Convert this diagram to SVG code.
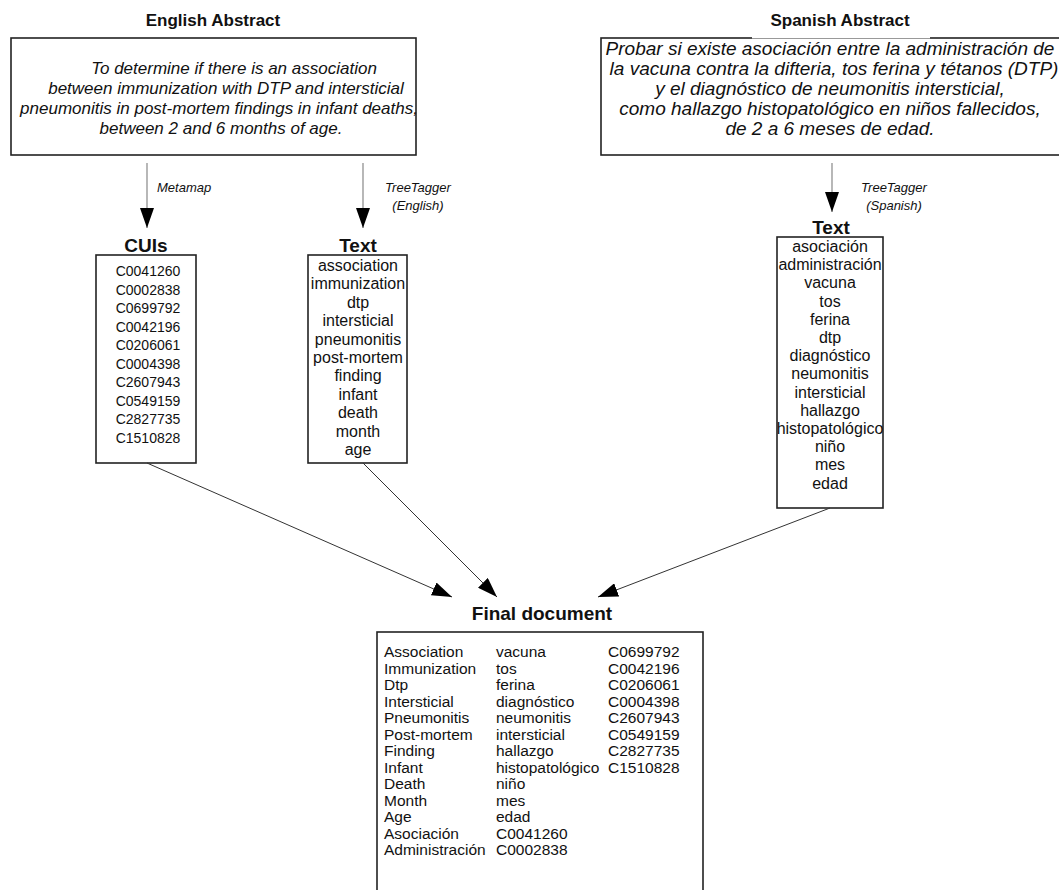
<svg xmlns="http://www.w3.org/2000/svg" width="1059" height="890" viewBox="0 0 1059 890">
<defs>
<style>
text{font-family:"Liberation Sans",Arial,sans-serif;fill:#111}
.title{font-weight:bold;font-size:17px;text-anchor:middle}
.sub{font-weight:bold;font-size:19px;text-anchor:middle}
.abs{font-style:italic;font-size:17px;text-anchor:middle}
.abs-es{font-style:italic;font-size:19px;text-anchor:middle}
.lbl{font-style:italic;font-size:13px;text-anchor:middle}
.item{font-size:14px;text-anchor:middle}
.word{font-size:16px;text-anchor:middle}
.doc{font-size:15.5px}
.box{fill:#fff;stroke:#222;stroke-width:1.6}
.down{stroke:#888;stroke-width:1.2;fill:none}
.conn{stroke:#333;stroke-width:1;fill:none}
</style>
<marker id="ah" viewBox="0 0 20 14" refX="20" refY="7" markerWidth="20" markerHeight="14" markerUnits="userSpaceOnUse" orient="auto">
<path d="M0,0 L20,7 L0,14 Z" fill="#000"/>
</marker>
</defs>
<rect width="1059" height="890" fill="#fff"/>

<g id="english-abstract">
<text class="title" x="213" y="26">English Abstract</text>
<rect class="box" x="11" y="38" width="405" height="117"/>
<text class="abs" x="234" y="74">To determine if there is an association</text>
<text class="abs" x="226" y="94">between immunization with DTP and intersticial</text>
<text class="abs" x="219" y="114">pneumonitis in post-mortem findings in infant deaths,</text>
<text class="abs" x="221" y="134">between 2 and 6 months of age.</text>
</g>

<g id="spanish-abstract">
<rect class="box" x="601" y="38" width="470" height="117"/>
<rect x="752" y="33" width="178" height="6" fill="#fff"/>
<line x1="752" y1="38.5" x2="930" y2="38.5" stroke="#999" stroke-width="1"/>
<text class="title" x="840" y="26">Spanish Abstract</text>
<text class="abs-es" x="830" y="55">Probar si existe asociación entre la administración de</text>
<text class="abs-es" x="834" y="75">la vacuna contra la difteria, tos ferina y tétanos (DTP)</text>
<text class="abs-es" x="830" y="95">y el diagnóstico de neumonitis intersticial,</text>
<text class="abs-es" x="830" y="115">como hallazgo histopatológico en niños fallecidos,</text>
<text class="abs-es" x="830" y="135">de 2 a 6 meses de edad.</text>
</g>

<g id="cuis">
<text class="sub" x="146" y="252">CUIs</text>
<rect class="box" x="96" y="255" width="100" height="208"/>
<text class="item" x="148" y="276">C0041260</text>
<text class="item" x="148" y="294.5">C0002838</text>
<text class="item" x="148" y="313">C0699792</text>
<text class="item" x="148" y="331.5">C0042196</text>
<text class="item" x="148" y="350">C0206061</text>
<text class="item" x="148" y="368.5">C0004398</text>
<text class="item" x="148" y="387">C2607943</text>
<text class="item" x="148" y="405.5">C0549159</text>
<text class="item" x="148" y="424">C2827735</text>
<text class="item" x="148" y="442.5">C1510828</text>
</g>

<g id="english-text">
<text class="sub" x="358" y="252">Text</text>
<rect class="box" x="308" y="255" width="99" height="208"/>
<text class="word" x="358" y="271">association</text>
<text class="word" x="358" y="289.4">immunization</text>
<text class="word" x="358" y="307.8">dtp</text>
<text class="word" x="358" y="326.2">intersticial</text>
<text class="word" x="358" y="344.6">pneumonitis</text>
<text class="word" x="358" y="363">post-mortem</text>
<text class="word" x="358" y="381.4">finding</text>
<text class="word" x="358" y="399.8">infant</text>
<text class="word" x="358" y="418.2">death</text>
<text class="word" x="358" y="436.6">month</text>
<text class="word" x="358" y="455">age</text>
</g>

<g id="spanish-text">
<text class="sub" x="831" y="234">Text</text>
<rect class="box" x="777" y="237" width="106" height="271"/>
<text class="word" x="830" y="252">asociación</text>
<text class="word" x="830" y="270.2">administración</text>
<text class="word" x="830" y="288.4">vacuna</text>
<text class="word" x="830" y="306.6">tos</text>
<text class="word" x="830" y="324.8">ferina</text>
<text class="word" x="830" y="343">dtp</text>
<text class="word" x="830" y="361.2">diagnóstico</text>
<text class="word" x="830" y="379.4">neumonitis</text>
<text class="word" x="830" y="397.6">intersticial</text>
<text class="word" x="830" y="415.8">hallazgo</text>
<text class="word" x="830" y="434">histopatológico</text>
<text class="word" x="830" y="452.2">niño</text>
<text class="word" x="830" y="470.4">mes</text>
<text class="word" x="830" y="488.6">edad</text>
</g>

<g id="final-document">
<text class="sub" x="542" y="620">Final document</text>
<rect class="box" x="377" y="632" width="326" height="262"/>
<text class="doc" x="384" y="657">Association</text>
<text class="doc" x="384" y="673.5">Immunization</text>
<text class="doc" x="384" y="690">Dtp</text>
<text class="doc" x="384" y="706.5">Intersticial</text>
<text class="doc" x="384" y="723">Pneumonitis</text>
<text class="doc" x="384" y="739.5">Post-mortem</text>
<text class="doc" x="384" y="756">Finding</text>
<text class="doc" x="384" y="772.5">Infant</text>
<text class="doc" x="384" y="789">Death</text>
<text class="doc" x="384" y="805.5">Month</text>
<text class="doc" x="384" y="822">Age</text>
<text class="doc" x="384" y="838.5">Asociación</text>
<text class="doc" x="384" y="855">Administración</text>
<text class="doc" x="496" y="657">vacuna</text>
<text class="doc" x="496" y="673.5">tos</text>
<text class="doc" x="496" y="690">ferina</text>
<text class="doc" x="496" y="706.5">diagnóstico</text>
<text class="doc" x="496" y="723">neumonitis</text>
<text class="doc" x="496" y="739.5">intersticial</text>
<text class="doc" x="496" y="756">hallazgo</text>
<text class="doc" x="496" y="772.5">histopatológico</text>
<text class="doc" x="496" y="789">niño</text>
<text class="doc" x="496" y="805.5">mes</text>
<text class="doc" x="496" y="822">edad</text>
<text class="doc" x="496" y="838.5">C0041260</text>
<text class="doc" x="496" y="855">C0002838</text>
<text class="doc" x="608" y="657">C0699792</text>
<text class="doc" x="608" y="673.5">C0042196</text>
<text class="doc" x="608" y="690">C0206061</text>
<text class="doc" x="608" y="706.5">C0004398</text>
<text class="doc" x="608" y="723">C2607943</text>
<text class="doc" x="608" y="739.5">C0549159</text>
<text class="doc" x="608" y="756">C2827735</text>
<text class="doc" x="608" y="772.5">C1510828</text>
</g>

<g id="connectors">
<line class="down" x1="147" y1="163" x2="147" y2="228" marker-end="url(#ah)"/>
<line class="down" x1="363" y1="163" x2="363" y2="228" marker-end="url(#ah)"/>
<line class="down" x1="832" y1="163" x2="832" y2="212" marker-end="url(#ah)"/>
<line class="conn" x1="147" y1="463" x2="452" y2="597" marker-end="url(#ah)"/>
<line class="conn" x1="363" y1="463" x2="497" y2="597" marker-end="url(#ah)"/>
<line class="conn" x1="830" y1="508" x2="598" y2="597" marker-end="url(#ah)"/>
<text class="lbl" x="157" y="192" style="text-anchor:start">Metamap</text>
<text class="lbl" x="418" y="192">TreeTagger</text>
<text class="lbl" x="418" y="210">(English)</text>
<text class="lbl" x="894" y="192">TreeTagger</text>
<text class="lbl" x="894" y="210">(Spanish)</text>
</g>
</svg>
